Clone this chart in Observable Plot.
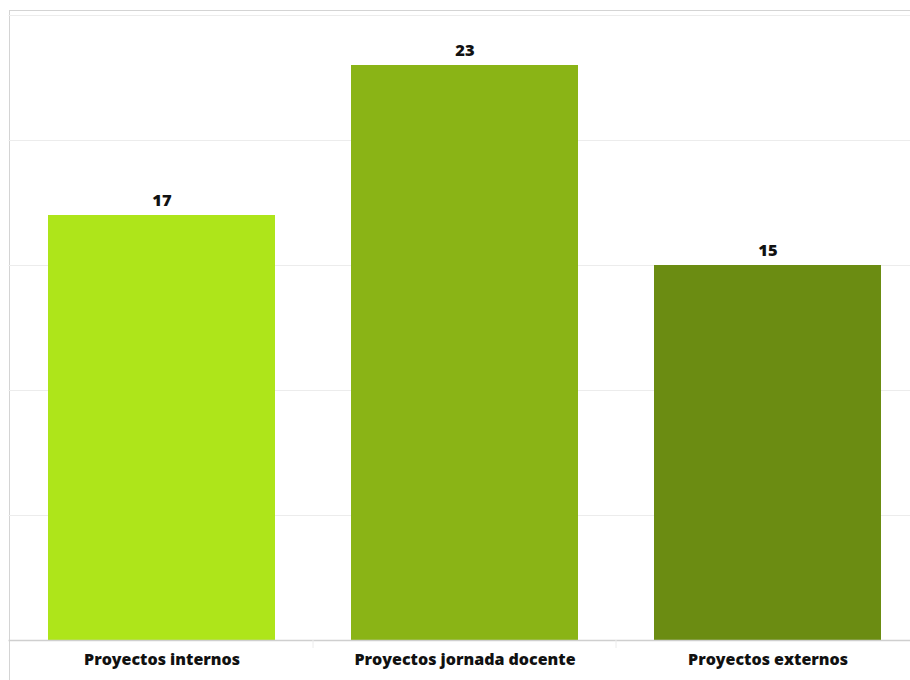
<!DOCTYPE html>
<html>
<head>
<meta charset="utf-8">
<script src="https://cdn.jsdelivr.net/npm/d3@7"></script>
<script src="https://cdn.jsdelivr.net/npm/@observablehq/plot@0.6"></script>
<style>
  html, body { margin: 0; padding: 0; background: #fff; overflow: hidden; width: 910px; height: 680px; }
  #frame { position: absolute; left: 9px; top: 10px; width: 920px; height: 690px; border: 1px solid #d4d4d4; box-sizing: border-box; }
  #chart { position: absolute; left: 0; top: 0; width: 920px; }
  #chart svg { max-width: none !important; }
</style>
</head>
<body>
<div id="frame"></div>
<div id="chart"></div>
<script>
const categories = ["Proyectos internos", "Proyectos jornada docente", "Proyectos externos"];
const values = [17, 23, 15];
const colors = ["#aee51a", "#8ab416", "#6b8c12"];
const yTicks = [0, 5, 10, 15, 20, 25];

const data = categories.map((c, i) => ({category: c, value: values[i], color: colors[i]}));

const chart = Plot.plot({
  width: 920,
  height: 680,
  marginTop: 15,
  marginBottom: 40,
  marginLeft: 8.5,
  marginRight: 0,
  style: {background: "transparent", fontFamily: "'Open Sans', sans-serif", color: "#000", maxWidth: "none"},
  x: {domain: categories, paddingInner: 0.25, paddingOuter: 0.125, label: null},
  y: {domain: [0, 25], label: null, axis: null},
  marks: [
    Plot.ruleY(yTicks.slice(1), {stroke: "#ececec", strokeWidth: 1}),
    Plot.barY(data, {x: "category", y: "value", fill: "color"}),
    Plot.ruleY([0], {stroke: "#cfcfcf", strokeWidth: 1.5}),
    Plot.ruleX(categories.slice(1), {x: d => d, dx: -152, y1: 0, y2: 0, insetBottom: -8, stroke: "#ececec"}),
    Plot.text(data, {x: "category", y: "value", text: d => String(d.value), dy: -15, fontSize: 16.5, fontWeight: 800, fill: "#111"}),
    Plot.axisX({tickSize: 0, tickPadding: 13, fontSize: 16, fontWeight: 800, fill: "#111", label: null})
  ]
});
document.getElementById("chart").appendChild(chart);
</script>
</body>
</html>
